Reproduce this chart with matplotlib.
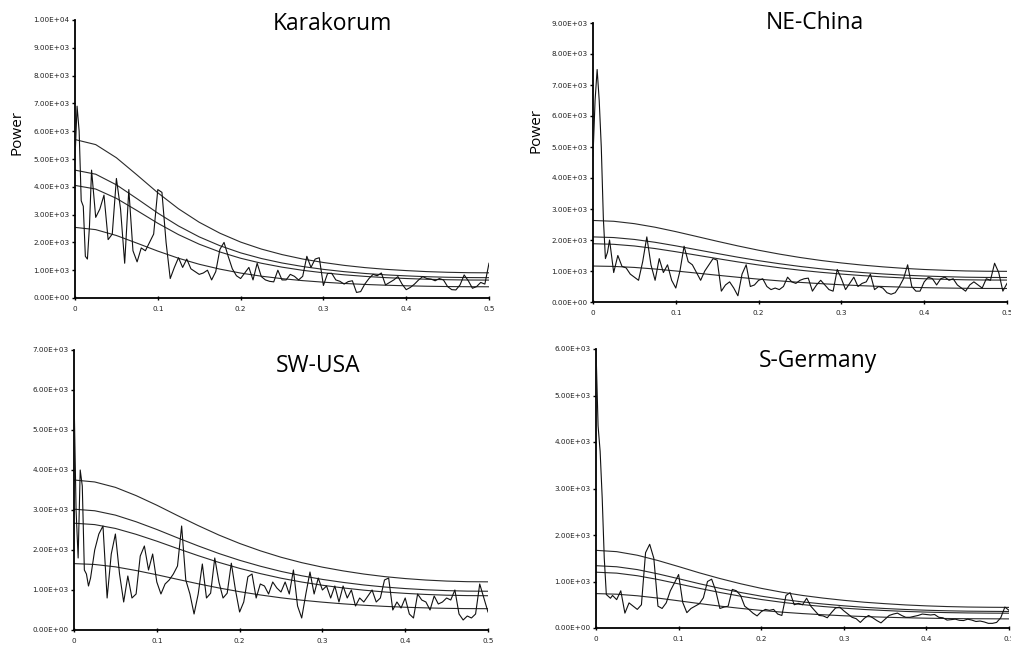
import numpy as np
import matplotlib
matplotlib.use("Agg")
import matplotlib.pyplot as plt
from matplotlib.ticker import FuncFormatter, MultipleLocator

# ---------------- frequency grids ----------------
freq_head = [0.0, 0.0025, 0.005, 0.0075, 0.01, 0.0125, 0.015, 0.0175, 0.02]
freq_body = [round(0.025 + 0.005 * i, 4) for i in range(96)]
freq = freq_head + freq_body
curve_freq = [round(0.025 * i, 4) for i in range(21)]

# ---------------- Karakorum ----------------
kar_power = [
    5000, 6900, 6000, 3500, 3300, 1500, 1400, 2600, 4600,
    2900, 3200, 3700, 2100, 2300, 4300, 3200, 1250, 3900, 1700,
    1300, 1800, 1700, 2000, 2300, 3900, 3800, 2000, 700, 1100,
    1450, 1100, 1400, 1050, 950, 850, 900, 1000, 650, 950,
    1750, 2000, 1500, 1050, 800, 700, 900, 1100, 650, 1250,
    770, 650, 600, 580, 1000, 650, 650, 850, 780, 650,
    780, 1500, 1100, 1400, 1450, 450, 880, 890, 650, 600,
    500, 590, 620, 200, 230, 500, 700, 850, 800, 900,
    470, 560, 650, 770, 500, 300, 380, 500, 650, 770,
    700, 680, 620, 700, 650, 410, 300, 290, 470, 830,
    620, 350, 410, 560, 500, 1250,
]
kar_c1 = [5700, 5518, 5045, 4423, 3785, 3209, 2725, 2331, 2012, 1761, 1562,
          1402, 1277, 1174, 1094, 1032, 986, 949, 925, 910, 906]
kar_c2 = [4600, 4453, 4071, 3570, 3054, 2590, 2199, 1881, 1624, 1421, 1260,
          1132, 1030, 948, 883, 833, 796, 766, 746, 735, 731]
kar_c3 = [4050, 3920, 3584, 3143, 2689, 2280, 1936, 1656, 1430, 1251, 1110,
          996, 907, 834, 778, 733, 701, 674, 657, 647, 644]
kar_c4 = [2540, 2459, 2248, 1971, 1687, 1430, 1214, 1039, 897, 785, 696,
          625, 569, 523, 488, 460, 439, 423, 412, 406, 404]

# ---------------- NE-China ----------------
nec_power = [
    4700, 6500, 7500, 6500, 5000, 2700, 1400, 1600, 2000,
    950, 1500, 1150, 1100, 900, 800, 700, 1300, 2100, 1200,
    700, 1400, 950, 1200, 700, 450, 1000, 1800, 1300, 1200,
    950, 700, 1000, 1200, 1400, 1350, 350, 550, 650, 450,
    200, 900, 1200, 500, 550, 700, 750, 500, 400, 450,
    400, 500, 800, 650, 600, 700, 750, 770, 350, 550,
    700, 550, 400, 350, 1050, 750, 400, 600, 800, 500,
    600, 650, 900, 400, 500, 450, 300, 250, 300, 500,
    750, 1200, 500, 350, 350, 650, 800, 750, 550, 750,
    800, 700, 750, 550, 450, 350, 550, 650, 550, 450,
    750, 700, 1250, 950, 350, 600,
]
nec_c1 = [2630, 2604, 2527, 2412, 2270, 2115, 1959, 1809, 1670, 1546, 1436,
          1341, 1260, 1191, 1134, 1086, 1049, 1023, 1002, 992, 989]
nec_c2 = [2100, 2079, 2018, 1926, 1812, 1688, 1565, 1445, 1334, 1235, 1147,
          1071, 1006, 951, 905, 867, 838, 817, 800, 792, 790]
nec_c3 = [1880, 1861, 1807, 1724, 1622, 1512, 1401, 1293, 1194, 1105, 1026,
          959, 901, 852, 810, 776, 750, 731, 716, 709, 707]
nec_c4 = [1160, 1148, 1115, 1064, 1001, 933, 864, 798, 737, 682, 633,
          592, 556, 525, 500, 479, 463, 451, 442, 437, 436]

# ---------------- SW-USA ----------------
swu_power = [
    5900, 3000, 1800, 4000, 3600, 1500, 1400, 1100, 1300,
    2000, 2400, 2600, 800, 1900, 2400, 1400, 700, 1350, 800,
    900, 1850, 2100, 1500, 1900, 1200, 900, 1150, 1250, 1400,
    1600, 2600, 1250, 900, 400, 900, 1650, 800, 920, 1800,
    1200, 800, 920, 1670, 1000, 450, 700, 1330, 1400, 800,
    1150, 1100, 900, 1200, 1050, 950, 1200, 900, 1500, 600,
    300, 900, 1450, 900, 1300, 1000, 1100, 800, 1100, 700,
    1100, 800, 1000, 600, 800, 700, 850, 1000, 700, 800,
    1250, 1300, 500, 700, 550, 800, 400, 300, 900, 750,
    700, 500, 850, 650, 700, 800, 750, 1000, 400, 250,
    350, 300, 400, 1150, 800, 450,
]
swu_c1 = [3750, 3701, 3566, 3360, 3120, 2861, 2610, 2374, 2164, 1980, 1819,
          1684, 1571, 1478, 1399, 1335, 1286, 1249, 1223, 1208, 1204]
swu_c2 = [3020, 2981, 2872, 2706, 2513, 2304, 2102, 1912, 1743, 1595, 1465,
          1356, 1265, 1190, 1126, 1075, 1036, 1006, 985, 972, 969]
swu_c3 = [2670, 2635, 2539, 2392, 2221, 2037, 1858, 1690, 1541, 1410, 1295,
          1199, 1119, 1052, 996, 951, 916, 889, 870, 860, 857]
swu_c4 = [1660, 1638, 1579, 1487, 1381, 1267, 1155, 1051, 958, 876, 805,
          745, 696, 654, 619, 591, 569, 553, 541, 535, 533]

# ---------------- S-Germany ----------------
sge_power = [
    6000, 4350, 3800, 2800, 1500, 720, 680, 640, 700,
    610, 800, 320, 540, 470, 400, 500, 1620, 1800, 1500,
    470, 420, 540, 800, 970, 1150, 550, 330, 420, 470,
    520, 650, 1000, 1050, 800, 420, 450, 470, 830, 800,
    700, 470, 400, 320, 260, 350, 400, 380, 400, 300,
    270, 700, 760, 500, 530, 500, 640, 470, 370, 270,
    260, 220, 330, 430, 450, 370, 300, 230, 200, 120,
    210, 270, 220, 160, 110, 190, 270, 300, 320, 270,
    230, 230, 250, 270, 300, 290, 280, 290, 230, 220,
    170, 180, 190, 165, 160, 190, 170, 140, 150, 130,
    100, 100, 120, 220, 450, 380,
]
sge_c1 = [1670, 1642, 1565, 1451, 1321, 1187, 1064, 952, 853, 770, 700,
          643, 595, 554, 523, 496, 476, 461, 451, 446, 443]
sge_c2 = [1340, 1317, 1256, 1164, 1060, 953, 854, 764, 685, 618, 561,
          516, 477, 445, 419, 398, 382, 370, 362, 358, 355]
sge_c3 = [1200, 1180, 1124, 1043, 949, 853, 764, 684, 613, 553, 503,
          462, 427, 398, 376, 356, 342, 331, 324, 320, 318]
sge_c4 = [740, 727, 693, 643, 585, 526, 471, 422, 378, 341, 310,
          285, 263, 246, 232, 220, 211, 204, 200, 198, 196]

titles = ["Karakorum", "NE-China", "SW-USA", "S-Germany"]
y_max = [10000, 9000, 7000, 6000]
x_ticks = [0, 0.1, 0.2, 0.3, 0.4, 0.5]

W, H = 1012, 648
fig = plt.figure(figsize=(W / 100, H / 100), dpi=100)
fig.patch.set_facecolor("white")


def px_rect(l, r, t, b):
    return [l / W, 1 - b / H, (r - l) / W, (b - t) / H]


panels = [
    dict(rect=px_rect(75, 489, 20, 298), power=kar_power,
         curves=[kar_c1, kar_c2, kar_c3, kar_c4], title=(332, 30), ylabel=(17, 132)),
    dict(rect=px_rect(593, 1007, 23, 302), power=nec_power,
         curves=[nec_c1, nec_c2, nec_c3, nec_c4], title=(815, 29), ylabel=(536, 130)),
    dict(rect=px_rect(74, 488, 350, 630), power=swu_power,
         curves=[swu_c1, swu_c2, swu_c3, swu_c4], title=(318, 372), ylabel=None),
    dict(rect=px_rect(596, 1009, 349, 628), power=sge_power,
         curves=[sge_c1, sge_c2, sge_c3, sge_c4], title=(818, 367), ylabel=None),
]

ytick_fmt = FuncFormatter(lambda v, p: f"{v:.2E}")
xtick_fmt = FuncFormatter(lambda v, p: "0" if abs(v) < 1e-9 else f"{v:.1f}")

for i, pnl in enumerate(panels):
    ax = fig.add_axes(pnl["rect"])
    for c in pnl["curves"]:
        ax.plot(curve_freq, c, color="#2a2a2a", lw=0.8, zorder=2)
    ax.plot(freq, pnl["power"], color="#111111", lw=0.8, zorder=3)
    ax.set_xlim(0, 0.5)
    ax.set_ylim(0, y_max[i])
    ax.yaxis.set_major_locator(MultipleLocator(1000))
    ax.yaxis.set_major_formatter(ytick_fmt)
    ax.set_xticks(x_ticks)
    ax.xaxis.set_major_formatter(xtick_fmt)
    for s in ("top", "right"):
        ax.spines[s].set_visible(False)
    for s in ("left", "bottom"):
        ax.spines[s].set_linewidth(1.3)
        ax.spines[s].set_color("black")
    ax.tick_params(axis="y", direction="out", length=2.5, width=1.0,
                   labelsize=5.2, pad=1.5, colors="black", labelcolor="#222222")
    ax.tick_params(axis="x", direction="inout", length=3.5, width=1.0,
                   labelsize=5.2, pad=4, colors="black", labelcolor="#222222")
    for lab in ax.get_xticklabels() + ax.get_yticklabels():
        lab.set_family("DejaVu Sans")
    ax.patch.set_alpha(0)

    tx, ty = pnl["title"]
    fig.text(tx / W, 1 - ty / H, titles[i], ha="center", va="baseline",
             fontsize=16.5, family="Open Sans", color="black")
    if pnl["ylabel"] is not None:
        lx, ly = pnl["ylabel"]
        fig.text(lx / W, 1 - ly / H, "Power", ha="center", va="center",
                 rotation=90, fontsize=11, family="Open Sans", color="black")

fig.savefig("out.png", dpi=100)
